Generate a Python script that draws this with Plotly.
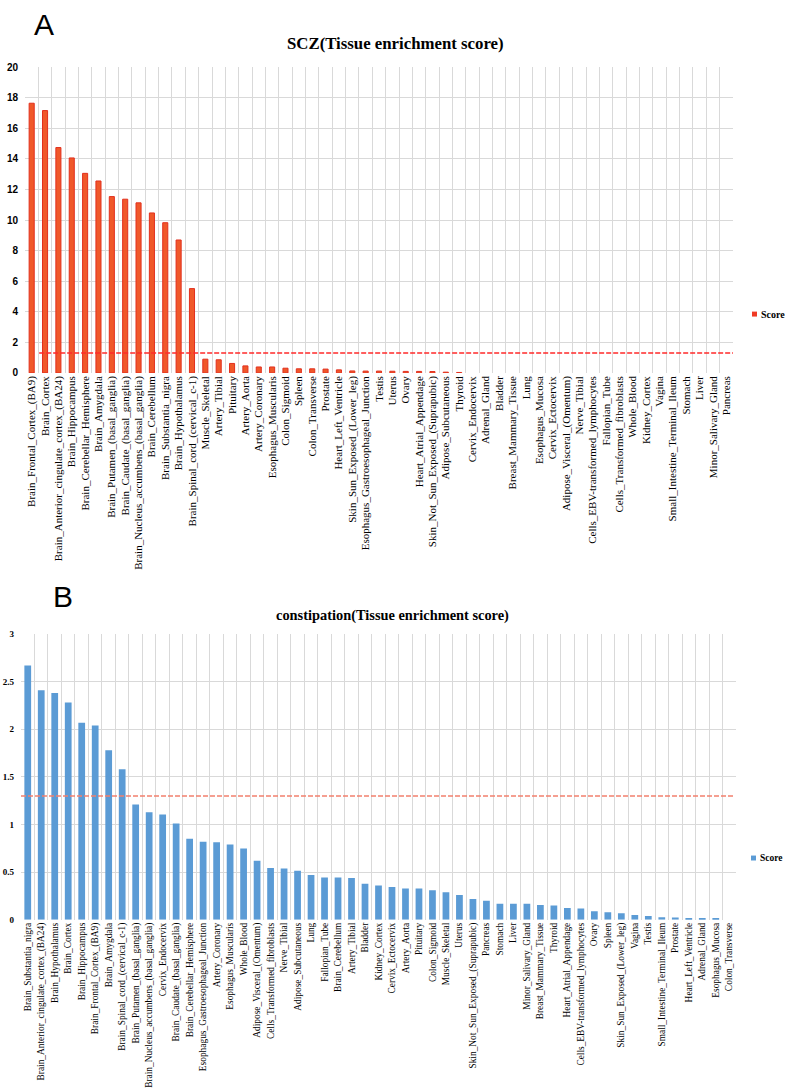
import plotly.graph_objects as go

# ---------------- Data ----------------
scz_tissues = [
    "Brain_Frontal_Cortex_(BA9)", "Brain_Cortex", "Brain_Anterior_cingulate_cortex_(BA24)",
    "Brain_Hippocampus", "Brain_Cerebellar_Hemisphere", "Brain_Amygdala",
    "Brain_Putamen_(basal_ganglia)", "Brain_Caudate_(basal_ganglia)",
    "Brain_Nucleus_accumbens_(basal_ganglia)", "Brain_Cerebellum", "Brain_Substantia_nigra",
    "Brain_Hypothalamus", "Brain_Spinal_cord_(cervical_c-1)", "Muscle_Skeletal", "Artery_Tibial",
    "Pituitary", "Artery_Aorta", "Artery_Coronary", "Esophagus_Muscularis", "Colon_Sigmoid",
    "Spleen", "Colon_Transverse", "Prostate", "Heart_Left_Ventricle",
    "Skin_Sun_Exposed_(Lower_leg)", "Esophagus_Gastroesophageal_Junction", "Testis", "Uterus",
    "Ovary", "Heart_Atrial_Appendage", "Skin_Not_Sun_Exposed_(Suprapubic)",
    "Adipose_Subcutaneous", "Thyroid", "Cervix_Endocervix", "Adrenal_Gland", "Bladder",
    "Breast_Mammary_Tissue", "Lung", "Esophagus_Mucosa", "Cervix_Ectocervix",
    "Adipose_Visceral_(Omentum)", "Nerve_Tibial", "Cells_EBV-transformed_lymphocytes",
    "Fallopian_Tube", "Cells_Transformed_fibroblasts", "Whole_Blood", "Kidney_Cortex", "Vagina",
    "Small_Intestine_Terminal_Ileum", "Stomach", "Liver", "Minor_Salivary_Gland", "Pancreas",
]
scz_scores = [
    17.65, 17.17, 14.75, 14.07, 13.06, 12.56, 11.54, 11.37, 11.13, 10.47, 9.83, 8.70, 5.52,
    0.90, 0.86, 0.62, 0.46, 0.39, 0.39, 0.31, 0.27, 0.27, 0.25, 0.20, 0.13, 0.12, 0.12, 0.11,
    0.10, 0.10, 0.09, 0.05, 0.03, 0, 0, 0, 0, 0, 0, 0, 0, 0, 0, 0, 0, 0, 0, 0, 0, 0, 0, 0, 0,
]

con_tissues = [
    "Brain_Substantia_nigra", "Brain_Anterior_cingulate_cortex_(BA24)", "Brain_Hypothalamus",
    "Brain_Cortex", "Brain_Hippocampus", "Brain_Frontal_Cortex_(BA9)", "Brain_Amygdala",
    "Brain_Spinal_cord_(cervical_c-1)", "Brain_Putamen_(basal_ganglia)",
    "Brain_Nucleus_accumbens_(basal_ganglia)", "Cervix_Endocervix",
    "Brain_Caudate_(basal_ganglia)", "Brain_Cerebellar_Hemisphere",
    "Esophagus_Gastroesophageal_Junction", "Artery_Coronary", "Esophagus_Muscularis",
    "Whole_Blood", "Adipose_Visceral_(Omentum)", "Cells_Transformed_fibroblasts", "Nerve_Tibial",
    "Adipose_Subcutaneous", "Lung", "Fallopian_Tube", "Brain_Cerebellum", "Artery_Tibial",
    "Bladder", "Kidney_Cortex", "Cervix_Ectocervix", "Artery_Aorta", "Pituitary",
    "Colon_Sigmoid", "Muscle_Skeletal", "Uterus", "Skin_Not_Sun_Exposed_(Suprapubic)",
    "Pancreas", "Stomach", "Liver", "Minor_Salivary_Gland", "Breast_Mammary_Tissue", "Thyroid",
    "Heart_Atrial_Appendage", "Cells_EBV-transformed_lymphocytes", "Ovary", "Spleen",
    "Skin_Sun_Exposed_(Lower_leg)", "Vagina", "Testis", "Small_Intestine_Terminal_Ileum",
    "Prostate", "Heart_Left_Ventricle", "Adrenal_Gland", "Esophagus_Mucosa", "Colon_Transverse",
]
con_scores = [
    2.67, 2.41, 2.38, 2.28, 2.07, 2.04, 1.78, 1.58, 1.21, 1.13, 1.105, 1.01, 0.85, 0.82, 0.815,
    0.79, 0.75, 0.62, 0.545, 0.54, 0.515, 0.47, 0.445, 0.445, 0.44, 0.38, 0.36, 0.345, 0.33,
    0.33, 0.31, 0.29, 0.26, 0.22, 0.20, 0.17, 0.17, 0.17, 0.155, 0.15, 0.125, 0.12, 0.09, 0.08,
    0.07, 0.05, 0.04, 0.027, 0.024, 0.017, 0.017, 0.013, 0.0,
]

threshold = 1.3  # -log10(0.05)

scz_y_ticks = list(range(0, 21, 2))
con_y_ticks = [0, 0.5, 1, 1.5, 2, 2.5, 3]

series_name = "Score"

# ---------------- Figure ----------------
W, H = 785, 1092
GRID = "#d9d9d9"
SERIF = "Liberation Serif"
SANS = "Liberation Sans"
RED_FILL = "#F0582A"
RED_EDGE = "#E2301E"
BLUE = "#5B9BD5"


def px_x(p):
    return p / W


def px_y(p):
    return 1 - p / H


fig = go.Figure()

fig.add_trace(go.Bar(
    x=scz_tissues, y=scz_scores, name=series_name, xaxis="x", yaxis="y",
    marker=dict(color=RED_FILL,
                line=dict(color=RED_EDGE, width=[1 if s > 0 else 0 for s in scz_scores])),
    width=0.38, showlegend=False,
))
fig.add_trace(go.Bar(
    x=con_tissues, y=con_scores, name=series_name, xaxis="x2", yaxis="y2",
    marker=dict(color=BLUE, line=dict(width=0)), width=0.5, showlegend=False,
))

xa_common = dict(
    type="category", tickson="boundaries", showgrid=True, gridcolor=GRID, gridwidth=1,
    ticks="", tickangle=-90, showline=False, zeroline=False, fixedrange=True,
)

fig.update_layout(
    width=W, height=H,
    margin=dict(l=0, r=0, t=0, b=0),
    paper_bgcolor="white", plot_bgcolor="white",
    xaxis=dict(domain=[px_x(25), px_x(733)], anchor="y",
               tickfont=dict(family=SERIF, size=11, color="black"), **xa_common),
    yaxis=dict(domain=[px_y(371), px_y(62)], anchor="x", range=[0, 20],
               tickvals=scz_y_ticks, showgrid=True, gridcolor=GRID, gridwidth=1,
               zeroline=False, showline=False, ticks="", ticklabelstandoff=6,
               tickfont=dict(family=SANS, size=10, color="black", weight="bold")),
    xaxis2=dict(domain=[px_x(21), px_x(736)], anchor="y2",
                tickfont=dict(family=SERIF, size=9.4, color="black"), **xa_common),
    yaxis2=dict(domain=[px_y(924), px_y(635)], anchor="x2", range=[0, 3],
                tickvals=con_y_ticks, showgrid=True, gridcolor=GRID, gridwidth=1,
                zeroline=False, showline=False, ticks="", ticklabelstandoff=6,
                tickfont=dict(family=SERIF, size=9, color="black", weight="bold")),
    showlegend=False,
)

# threshold lines
fig.add_shape(type="line", xref="x domain", yref="y", x0=0.02, x1=1.0,
              y0=threshold, y1=threshold,
              line=dict(color="#FF2A2A", width=1.6, dash="5px,2px"))
fig.add_shape(type="line", xref="x2 domain", yref="y2", x0=0.0, x1=0.996,
              y0=threshold, y1=threshold,
              line=dict(color="#F2806E", width=1.3, dash="5px,2px"))

# legend keys (series name "Score")
fig.add_shape(type="rect", xref="paper", yref="paper",
              x0=px_x(752), x1=px_x(757), y0=px_y(314), y1=px_y(309),
              fillcolor="#F03A24", line=dict(width=0))
fig.add_annotation(text="<b>" + series_name + "</b>", xref="paper", yref="paper",
                   x=px_x(759), y=px_y(311.5), showarrow=False, xanchor="left", yanchor="middle",
                   font=dict(family=SERIF, size=10, color="black"))
fig.add_shape(type="rect", xref="paper", yref="paper",
              x0=px_x(751), x1=px_x(756), y0=px_y(864), y1=px_y(859),
              fillcolor=BLUE, line=dict(width=0))
fig.add_annotation(text="<b>" + series_name + "</b>", xref="paper", yref="paper",
                   x=px_x(758), y=px_y(861.5), showarrow=False, xanchor="left", yanchor="middle",
                   font=dict(family=SERIF, size=9.5, color="black"))

# titles and panel letters
fig.add_annotation(text="<b>SCZ(Tissue enrichment score)</b>", xref="paper", yref="paper",
                   x=px_x(395), y=px_y(38), showarrow=False, xanchor="center", yanchor="middle",
                   font=dict(family=SERIF, size=16.8, color="black"))
fig.add_annotation(text="<b>constipation(Tissue enrichment score)</b>", xref="paper", yref="paper",
                   x=px_x(392), y=px_y(616), showarrow=False, xanchor="center", yanchor="middle",
                   font=dict(family=SERIF, size=14.4, color="black"))
fig.add_annotation(text="A", xref="paper", yref="paper", x=px_x(44), y=1.0,
                   showarrow=False, xanchor="center", yanchor="top",
                   font=dict(family=SANS, size=30, color="black"))
fig.add_annotation(text="B", xref="paper", yref="paper", x=px_x(63), y=px_y(597),
                   showarrow=False, xanchor="center", yanchor="middle",
                   font=dict(family=SANS, size=30, color="black"))

# remove the default page margin so the 785x1092 figure fills the window exactly
fig.write_html("out.html", config={"displayModeBar": False},
               post_script="document.body.style.margin='0px';")
